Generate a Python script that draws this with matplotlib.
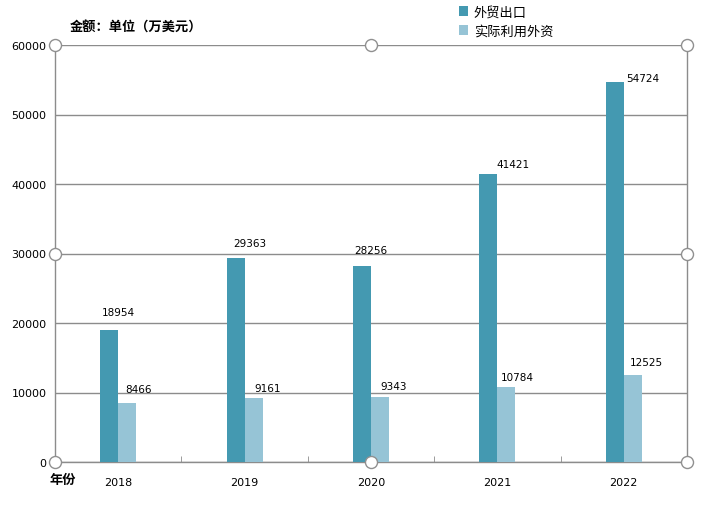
import matplotlib
matplotlib.use('Agg')
import matplotlib.pyplot as plt
import numpy as np

plt.rcParams['font.family'] = ['DejaVu Sans', 'Noto Sans CJK SC']

years = ['2018', '2019', '2020', '2021', '2022']
export = [18954, 29363, 28256, 41421, 54724]
fdi = [8466, 9161, 9343, 10784, 12525]
series_names = ['外贸出口', '实际利用外资']

# hand-placed label offsets (pixels right, pixels up) as in the source chart
export_offsets = [(9, 13), (14, 10), (9, 11), (25, 5), (28, -1)]
fdi_offsets = [(11, 9), (14, 5), (14, 6), (11, 5), (14, 8)]

dark = '#4499B1'
light = '#96C4D6'
grid_col = '#8C8C8C'

fig = plt.figure(figsize=(7.23, 5.10), dpi=100)
ax = fig.add_axes([55/723, 1-463/510, 632/723, 417/510])

x = np.arange(len(years))
w = 0.143
b1 = ax.bar(x - w/2, export, w, color=dark, label=series_names[0], zorder=3)
b2 = ax.bar(x + w/2, fdi, w, color=light, label=series_names[1], zorder=3)

for rects, vals, offs in ((b1, export, export_offsets), (b2, fdi, fdi_offsets)):
    for r, v, (dx, dy) in zip(rects, vals, offs):
        ax.annotate(str(v), (r.get_x() + r.get_width()/2, v), xytext=(dx, dy),
                    textcoords='offset pixels', ha='center', va='bottom',
                    fontsize=7.5, color='black')

ax.set_xlim(-0.5, len(years) - 0.5)
ax.set_ylim(0, 60000)
ax.set_yticks(np.arange(0, 60001, 10000))
ax.set_yticklabels([str(v) for v in range(0, 60001, 10000)], fontsize=8)
ax.set_xticks(x)
ax.set_xticklabels(years, fontsize=8)
ax.tick_params(axis='x', length=0, pad=11)
ax.tick_params(axis='y', length=0, pad=6)
ax.set_xticks(np.arange(0.5, len(years) - 0.5), minor=True)
ax.tick_params(axis='x', which='minor', direction='in', length=4, color=grid_col)

ax.yaxis.grid(True, color=grid_col, linewidth=1, zorder=0)
for s in ('left', 'right', 'bottom'):
    ax.spines[s].set_color(grid_col)
    ax.spines[s].set_linewidth(1)
ax.spines['top'].set_visible(False)

# selection handles
hx = [0, 0.5, 1, 0, 1, 0, 0.5, 1]
hy = [1, 1, 1, 0.5, 0.5, 0, 0, 0]
ax.scatter(hx, hy, s=75, facecolor='white', edgecolor='#909090', linewidth=1,
           transform=ax.transAxes, clip_on=False, zorder=5)

cjk = ['Noto Sans CJK SC', 'DejaVu Sans']
fig.text(70/723, 1-28/510, '金额：单位（万美元）', fontsize=9.5, fontweight='bold',
         family=cjk, va='center', ha='left')
fig.text(50/723, 1-480/510, '年份', fontsize=9.5, fontweight='bold',
         family=cjk, va='center', ha='left')

leg = fig.legend(handles=[b1, b2], loc='upper left', bbox_to_anchor=(452/723, 1),
                 frameon=False, prop={'family': cjk, 'size': 9.5},
                 handlelength=0.7, handleheight=0.7, handletextpad=0.45,
                 labelspacing=0.45, borderaxespad=0.1)

fig.savefig('out.png', dpi=100)
